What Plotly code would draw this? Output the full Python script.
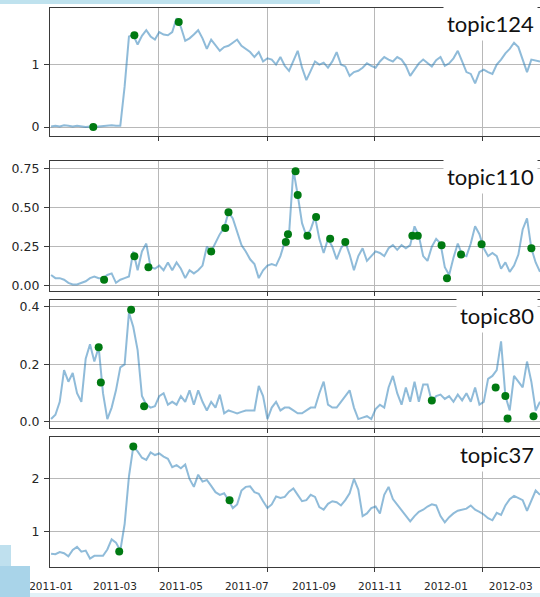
import pandas as pd
import plotly.graph_objects as go

# ---------------- data ----------------
start_date = "2011-01-01"
n_points = 114
dates = pd.date_range(start_date, periods=n_points, freq="4D")

topic_names = ["topic124", "topic110", "topic80", "topic37"]

topic124 = [
    0.01, 0.02, 0.01, 0.03, 0.02, 0.01, 0.02, 0.01, 0.00, 0.01,
    0.00, 0.01, 0.02, 0.03, 0.03, 0.02, 0.02, 0.65, 1.45, 1.47,
    1.32, 1.46, 1.55, 1.45, 1.40, 1.52, 1.48, 1.47, 1.52, 1.74,
    1.60, 1.38, 1.42, 1.48, 1.55, 1.42, 1.25, 1.40, 1.30, 1.22,
    1.28, 1.30, 1.35, 1.40, 1.30, 1.25, 1.20, 1.12, 1.20, 1.05,
    1.10, 1.08, 1.00, 1.12, 0.98, 0.90, 1.05, 1.22, 0.95, 0.75,
    0.90, 1.05, 1.00, 1.03, 0.95, 1.05, 1.20, 1.00, 0.97, 0.82,
    0.88, 0.90, 0.95, 1.02, 0.98, 0.95, 1.05, 1.12, 1.08, 1.05,
    1.12, 1.08, 0.98, 0.82, 0.92, 1.02, 1.08, 1.02, 0.97, 1.07,
    1.12, 0.98, 1.02, 1.10, 1.22, 1.05, 0.88, 0.85, 0.70, 0.88,
    0.92, 0.88, 0.85, 1.00, 1.08, 1.18, 1.25, 1.35, 1.28, 1.08,
    0.88, 1.08, 1.07, 1.05,
]
topic124_event_dates = ["2011-02-09", "2011-03-19", "2011-04-29"]
topic124_event_values = [0.0, 1.47, 1.68]

topic110 = [
    0.07, 0.05, 0.05, 0.04, 0.02, 0.01, 0.01, 0.02, 0.03, 0.05,
    0.06, 0.05, 0.05, 0.07, 0.08, 0.02, 0.04, 0.05, 0.06, 0.22,
    0.10, 0.22, 0.27, 0.12, 0.11, 0.13, 0.10, 0.15, 0.10, 0.15,
    0.11, 0.05, 0.10, 0.08, 0.10, 0.13, 0.25, 0.22, 0.28, 0.33,
    0.37, 0.47, 0.43, 0.35, 0.26, 0.22, 0.17, 0.14, 0.05, 0.10,
    0.13, 0.14, 0.13, 0.19, 0.28, 0.33, 0.74, 0.58, 0.40, 0.32,
    0.36, 0.44, 0.30, 0.21, 0.30, 0.25, 0.17, 0.24, 0.28, 0.20,
    0.10, 0.19, 0.24, 0.16, 0.19, 0.22, 0.21, 0.19, 0.24, 0.26,
    0.23, 0.26, 0.24, 0.26, 0.38, 0.32, 0.19, 0.16, 0.25, 0.30,
    0.27, 0.12, 0.07, 0.18, 0.27, 0.20, 0.19, 0.27, 0.38, 0.33,
    0.24, 0.19, 0.21, 0.19, 0.11, 0.15, 0.09, 0.13, 0.20, 0.36,
    0.43, 0.24, 0.15, 0.09,
]
topic110_event_dates = [
    "2011-02-19", "2011-03-19", "2011-04-01", "2011-05-29", "2011-06-11",
    "2011-06-14", "2011-08-06", "2011-08-08", "2011-08-15", "2011-08-17",
    "2011-08-26", "2011-09-03", "2011-09-16", "2011-09-30", "2011-12-01",
    "2011-12-06", "2011-12-28", "2012-01-02", "2012-01-15", "2012-02-03",
    "2012-03-20",
]
topic110_event_values = [
    0.04, 0.19, 0.12, 0.22, 0.37,
    0.47, 0.28, 0.33, 0.73, 0.58,
    0.32, 0.44, 0.30, 0.28, 0.32,
    0.32, 0.26, 0.05, 0.20, 0.265,
    0.24,
]

topic80 = [
    0.01, 0.025, 0.07, 0.18, 0.14, 0.17, 0.10, 0.07, 0.22, 0.27,
    0.21, 0.26, 0.10, 0.01, 0.05, 0.11, 0.19, 0.20, 0.38, 0.33,
    0.25, 0.09, 0.06, 0.05, 0.055, 0.09, 0.10, 0.06, 0.07, 0.06,
    0.09, 0.07, 0.11, 0.06, 0.11, 0.07, 0.04, 0.07, 0.05, 0.095,
    0.03, 0.04, 0.035, 0.03, 0.035, 0.04, 0.04, 0.04, 0.125, 0.09,
    0.01, 0.05, 0.07, 0.04, 0.05, 0.05, 0.04, 0.03, 0.03, 0.04,
    0.05, 0.05, 0.10, 0.14, 0.06, 0.05, 0.05, 0.07, 0.09, 0.11,
    0.05, 0.01, 0.015, 0.02, 0.01, 0.045, 0.06, 0.05, 0.12, 0.16,
    0.10, 0.06, 0.12, 0.07, 0.14, 0.07, 0.13, 0.13, 0.07, 0.09,
    0.095, 0.08, 0.09, 0.07, 0.095, 0.075, 0.10, 0.07, 0.12, 0.06,
    0.07, 0.15, 0.16, 0.18, 0.28, 0.09, 0.04, 0.16, 0.14, 0.12,
    0.21, 0.14, 0.04, 0.07,
]
topic80_event_dates = [
    "2011-02-14", "2011-02-16", "2011-03-16", "2011-03-28", "2011-12-19",
    "2012-02-16", "2012-02-25", "2012-02-27", "2012-03-22",
]
topic80_event_values = [0.26, 0.137, 0.39, 0.055, 0.075, 0.12, 0.09, 0.012, 0.02]

topic37 = [
    0.59, 0.58, 0.62, 0.60, 0.54, 0.66, 0.72, 0.63, 0.65, 0.50,
    0.55, 0.55, 0.55, 0.67, 0.86, 0.80, 0.65, 1.15, 2.05, 2.61,
    2.52, 2.40, 2.36, 2.50, 2.45, 2.48, 2.42, 2.38, 2.22, 2.26,
    2.20, 2.27, 2.00, 1.85, 2.08, 1.95, 1.98, 1.87, 1.75, 1.70,
    1.73, 1.60, 1.45, 1.52, 1.78, 1.85, 1.86, 1.75, 1.72, 1.58,
    1.45, 1.52, 1.67, 1.64, 1.66, 1.76, 1.82, 1.70, 1.58, 1.60,
    1.70, 1.66, 1.47, 1.42, 1.53, 1.58, 1.56, 1.50, 1.60, 1.73,
    2.00, 1.80, 1.30, 1.35, 1.45, 1.48, 1.35, 1.70, 1.85, 1.62,
    1.52, 1.42, 1.32, 1.20, 1.30, 1.38, 1.42, 1.48, 1.52, 1.50,
    1.30, 1.18, 1.28, 1.35, 1.40, 1.42, 1.44, 1.50, 1.42, 1.38,
    1.33, 1.26, 1.22, 1.36, 1.32, 1.50, 1.62, 1.68, 1.64, 1.60,
    1.40, 1.60, 1.78, 1.70,
]
topic37_event_dates = ["2011-03-05", "2011-03-18", "2011-06-15"]
topic37_event_values = [0.63, 2.61, 1.60]

x_tick_dates = ["2011-01-01", "2011-03-01", "2011-05-01", "2011-07-01",
                "2011-09-01", "2011-11-01", "2012-01-01", "2012-03-01"]
x_tick_labels = ["2011-01", "2011-03", "2011-05", "2011-07",
                 "2011-09", "2011-11", "2012-01", "2012-03"]
x_grid_dates = ["2011-04-10", "2011-07-20", "2011-10-27", "2012-02-04"]

y_tick_values = [[0, 1], [0.0, 0.25, 0.5, 0.75], [0.0, 0.2, 0.4], [1, 2]]
y_tick_labels = [["0", "1"], ["0.00", "0.25", "0.50", "0.75"],
                 ["0.0", "0.2", "0.4"], ["1", "2"]]

series = [topic124, topic110, topic80, topic37]
event_dates = [topic124_event_dates, topic110_event_dates,
               topic80_event_dates, topic37_event_dates]
event_values = [topic124_event_values, topic110_event_values,
                topic80_event_values, topic37_event_values]

# ---------------- layout constants ----------------
W, H = 540, 597
ML = 50
panel_px = [(8, 136), (161, 291), (300, 428), (437, 567)]   # top, bottom pixel rows
y_ranges = [(-0.143, 1.905), (-0.032, 0.796), (-0.021, 0.424), (0.34, 2.79)]
label_center_px = [24, 177, 315, 454]
x_range = ["2010-12-31", "2012-03-28"]

LINE_C = "rgba(31,119,180,0.5)"
DOT_C = "#007a12"
GRID_C = "#b8b8b8"
SPINE_C = "#3a3a3a"
TICK_FONT = dict(family="DejaVu Sans", size=12.5, color="#262626")

fig = go.Figure()
layout = dict(
    width=W, height=H,
    margin=dict(l=ML, r=0, t=0, b=0, autoexpand=False),
    paper_bgcolor="white", plot_bgcolor="white",
    showlegend=False,
    annotations=[], shapes=[],
)

for k in range(4):
    ax = "" if k == 0 else str(k + 1)
    fig.add_trace(go.Scatter(
        x=dates, y=series[k], mode="lines",
        line=dict(color=LINE_C, width=2),
        xaxis="x" + ax, yaxis="y" + ax, hoverinfo="skip",
    ))
    fig.add_trace(go.Scatter(
        x=pd.to_datetime(event_dates[k]), y=event_values[k], mode="markers",
        marker=dict(color=DOT_C, size=8, line=dict(width=0)),
        xaxis="x" + ax, yaxis="y" + ax, hoverinfo="skip",
    ))
    top, bot = panel_px[k]
    dom = [(H - bot) / H, (H - top) / H]
    last = (k == 3)
    layout["xaxis" + ax] = dict(
        type="date", range=x_range, domain=[0, 1], anchor="y" + ax,
        showline=True, linecolor=SPINE_C, linewidth=1.2, mirror=True,
        showgrid=False, zeroline=False,
        tickmode="array",
        tickvals=x_tick_dates if last else [],
        ticktext=x_tick_labels if last else [],
        ticks="", showticklabels=last,
        tickfont=dict(family="DejaVu Sans", size=10.5, color="#262626"),
        ticklabelstandoff=9,
        minor=dict(tickmode="array", tickvals=x_grid_dates, ticks="outside",
                   ticklen=4, tickcolor=SPINE_C, tickwidth=1,
                   showgrid=True, gridcolor=GRID_C, gridwidth=1),
    )
    layout["yaxis" + ax] = dict(
        domain=dom, range=list(y_ranges[k]), anchor="x" + ax,
        showline=True, linecolor=SPINE_C, linewidth=1.2, mirror=False,
        showgrid=True, gridcolor=GRID_C, gridwidth=1, zeroline=False,
        tickmode="array", tickvals=y_tick_values[k], ticktext=y_tick_labels[k],
        ticks="outside", ticklen=5, tickcolor=SPINE_C, tickwidth=1,
        tickfont=TICK_FONT, ticklabelstandoff=2,
    )
    layout["annotations"].append(dict(
        text=topic_names[k], xref="paper", yref="paper",
        x=1, xanchor="right", xshift=-2,
        y=(H - label_center_px[k]) / H, yanchor="middle",
        showarrow=False, bgcolor="white", borderpad=3,
        font=dict(family="Lato", size=22, color="#111111"),
    ))

def px_x(p):
    return (p - ML) / (W - ML)

def px_y(p):
    return (H - p) / H

# slide decorations around the pasted chart
layout["shapes"] += [
    dict(type="rect", xref="paper", yref="paper", x0=px_x(0), x1=px_x(320),
         y0=px_y(4), y1=px_y(0), fillcolor="#bfe2ee", line=dict(width=0)),
    dict(type="rect", xref="paper", yref="paper", x0=px_x(0), x1=px_x(540),
         y0=px_y(597), y1=px_y(593), fillcolor="#e2f1f7", line=dict(width=0)),
    dict(type="rect", xref="paper", yref="paper", x0=px_x(0), x1=px_x(11),
         y0=px_y(597), y1=px_y(545), fillcolor="#bfe0ee", line=dict(width=0)),
    dict(type="rect", xref="paper", yref="paper", x0=px_x(0), x1=px_x(30),
         y0=px_y(597), y1=px_y(566), fillcolor="#a9d4e9", line=dict(width=0)),
]

fig.update_layout(**layout)
fig.write_html(
    "out.html",
    config={"displayModeBar": False},
    post_script="document.body.style.margin='0';document.body.style.overflow='hidden';",
)
